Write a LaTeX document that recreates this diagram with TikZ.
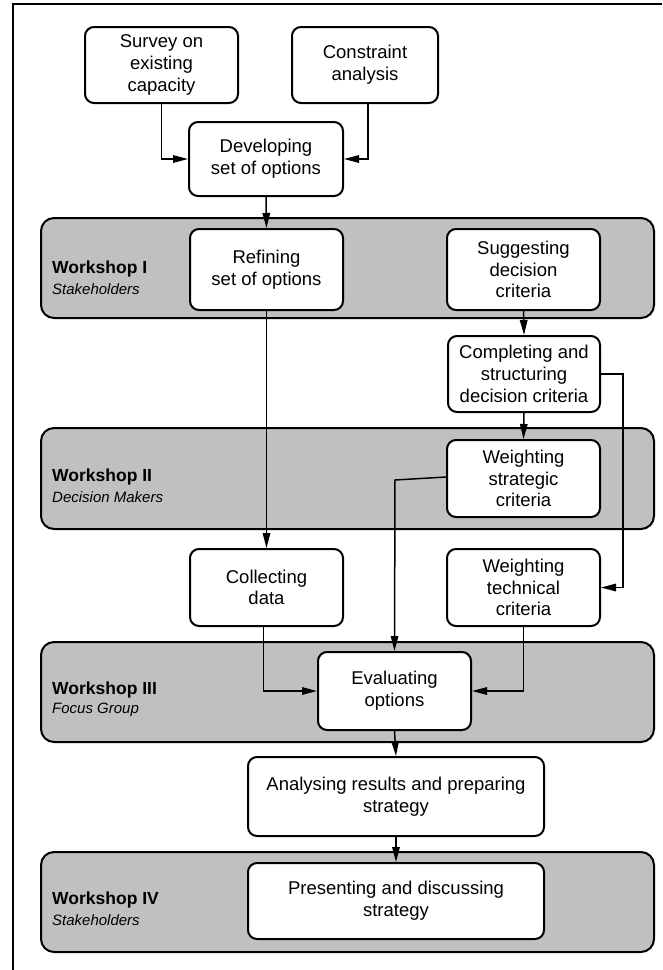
\documentclass[tikz,border=0pt]{standalone}
\usepackage{fontspec}
\setmainfont{Liberation Sans}
\usetikzlibrary{arrows.meta}
\definecolor{bandgray}{RGB}{192,192,192}
\tikzset{
  box/.style={draw=black, line width=2pt, fill=white, rounded corners=9pt, align=center,
    inner sep=2pt, font=\fontsize{18.5}{21.7}\selectfont},
  band/.style={draw=black, line width=2pt, fill=bandgray, rounded corners=13pt},
  conn/.style={draw=black, line width=1.5pt, -{Triangle[length=15pt,width=7.5pt]}},
  wtitle/.style={anchor=west, inner sep=0pt, font=\fontsize{17.5}{20}\selectfont\bfseries},
  wsub/.style={anchor=west, inner sep=0pt, font=\fontsize{15}{18}\selectfont\itshape},
}
\begin{document}
\begin{tikzpicture}[x=1pt,y=-1pt]
\useasboundingbox (0,0) rectangle (662,970);
% frame
\draw[line width=2pt] (12.5,970) -- (12.5,3.5) -- (662,3.5);
% bands
\path[band] (41,218) rectangle (654,318);
\path[band] (41,428) rectangle (654,529);
\path[band] (41,642) rectangle (654,742);
\path[band] (41,852) rectangle (654,952);
% band labels
\node[wtitle] (w1) at (52,269) {Workshop I};
\node[wsub] (s1) at (52,289) {Stakeholders};
\node[wtitle] (w2) at (52,477) {Workshop II};
\node[wsub] (s2) at (52,497) {Decision Makers};
\node[wtitle] (w3) at (52,690) {Workshop III};
\node[wsub] (s3) at (52,710) {Focus Group};
\node[wtitle] (w4) at (52,900) {Workshop IV};
\node[wsub] (s4) at (52,920) {Stakeholders};
% boxes
\node[box, minimum width=153pt, minimum height=76pt] (survey) at (161.5,65) {Survey on\\existing\\capacity};
\node[box, minimum width=146pt, minimum height=76pt] (constr) at (365,65) {Constraint\\analysis};
\node[box, minimum width=154pt, minimum height=74pt] (develop) at (266,159) {Developing\\set of options};
\node[box, minimum width=153pt, minimum height=81pt] (refine) at (266.5,269.5) {Refining\\set of options};
\node[box, minimum width=153pt, minimum height=81pt] (suggest) at (523.5,269.5) {Suggesting\\decision\\criteria};
\node[box, minimum width=152pt, minimum height=76pt] (complete) at (524,374) {Completing and\\structuring\\decision criteria};
\node[box, minimum width=153pt, minimum height=77pt] (strategic) at (523.5,478.5) {Weighting\\strategic\\criteria};
\node[box, minimum width=153pt, minimum height=77pt] (collect) at (266.5,587.5) {Collecting\\data};
\node[box, minimum width=153pt, minimum height=77pt] (technical) at (523.5,587.5) {Weighting\\technical\\criteria};
\node[box, minimum width=153pt, minimum height=78pt] (evaluate) at (394.5,691) {Evaluating\\options};
\node[box, minimum width=296pt, minimum height=79pt] (analyse) at (396,796.5) {Analysing results and preparing\\strategy};
\node[box, minimum width=296pt, minimum height=76pt] (present) at (396,901) {Presenting and discussing\\strategy};
% connectors
\draw[conn] (survey.south) |- (develop.west);
\draw[conn] ([xshift=3pt]constr.south) |- (develop.east);
\draw[conn] (develop.south) -- (refine.north);
\draw[conn] (suggest.south) -- (complete.north);
\draw[conn] (complete.south) -- (strategic.north);
\draw[conn] (refine.south) -- (collect.north);
\coordinate (rt) at (623,374);
\draw[conn] (complete.east) -- (rt) |- (technical.east);
\coordinate (st) at (395,480);
\draw[conn] ([yshift=1.5pt]strategic.west) -- (st) -- (evaluate.north);
\draw[conn] ([xshift=-3pt]collect.south) |- (evaluate.west);
\draw[conn] (technical.south) |- (evaluate.east);
\draw[conn] (evaluate.south) -- (analyse.north);
\draw[conn] (analyse.south) -- (present.north);
\end{tikzpicture}
\end{document}
